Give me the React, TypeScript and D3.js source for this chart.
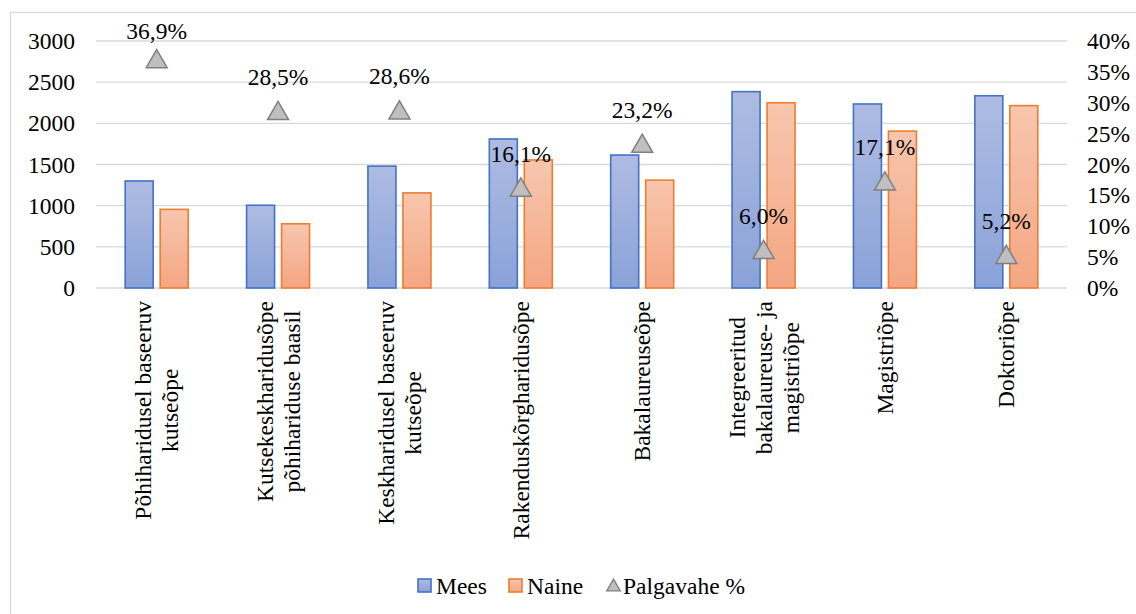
import { useRef, useEffect } from 'react';
import * as d3 from 'd3';

const CATEGORIES: string[][] = [
  ['Põhiharidusel baseeruv', 'kutseõpe'],
  ['Kutsekeskharidusõpe', 'põhihariduse baasil'],
  ['Keskharidusel baseeruv', 'kutseõpe'],
  ['Rakenduskõrgharidusõpe'],
  ['Bakalaureuseõpe'],
  ['Integreeritud', 'bakalaureuse- ja', 'magistriõpe'],
  ['Magistriõpe'],
  ['Doktoriõpe'],
];
const MEES = [1300, 1005, 1480, 1810, 1615, 2385, 2235, 2335];
const NAINE = [955, 780, 1155, 1555, 1310, 2250, 1905, 2215];
const PALGAVAHE = [36.9, 28.5, 28.6, 16.1, 23.2, 6.0, 17.1, 5.2];
const LEFT_TICKS = [0, 500, 1000, 1500, 2000, 2500, 3000];
const RIGHT_TICKS = [0, 5, 10, 15, 20, 25, 30, 35, 40];
const SERIES = ['Mees', 'Naine'];

const FONT = "'Liberation Serif', 'Times New Roman', serif";
const FS = 23.5;

export default function App() {
  const svgRef = useRef<SVGSVGElement>(null);

  useEffect(() => {
    if (!svgRef.current) return;
    const W = 1136, H = 614;
    const margin = { top: 41, right: 1067, bottom: 288, left: 96 };
    const svg = d3.select(svgRef.current);
    svg.selectAll('*').remove();
    svg.attr('width', W).attr('height', H).style('font-family', FONT);

    // gradients
    const defs = svg.append('defs');
    const grads: [string, string, string][] = [
      ['gMees', '#aebce2', '#8aa2d9'],
      ['gNaine', '#f7c6ae', '#f4a683'],
    ];
    grads.forEach(([id, top, bot]) => {
      const g = defs.append('linearGradient').attr('id', id).attr('x1', 0).attr('y1', 0).attr('x2', 0).attr('y2', 1);
      g.append('stop').attr('offset', '0%').attr('stop-color', top);
      g.append('stop').attr('offset', '100%').attr('stop-color', bot);
    });
    const fills: Record<string, string> = { Mees: 'url(#gMees)', Naine: 'url(#gNaine)' };
    const strokes: Record<string, string> = { Mees: '#4472c4', Naine: '#ed7d31' };

    // chart border
    svg.append('rect')
      .attr('x', 10.5).attr('y', 12.5).attr('width', W + 10).attr('height', H + 10)
      .attr('fill', 'none').attr('stroke', '#d9d9d9').attr('stroke-width', 1.3);

    const x = d3.scaleBand<number>()
      .domain(d3.range(CATEGORIES.length))
      .range([margin.left, margin.right]);
    const xs = d3.scaleBand<string>().domain(SERIES).range([-31.5, 31.5]).paddingInner(0.2);
    const y = d3.scaleLinear().domain([0, 3000]).range([margin.bottom, margin.top]);
    const y2 = d3.scaleLinear().domain([0, 40]).range([margin.bottom, margin.top]);
    const cx = (i: number) => (x(i) ?? 0) + x.bandwidth() / 2;

    // grid
    svg.append('g')
      .selectAll('line')
      .data(LEFT_TICKS)
      .join('line')
      .attr('x1', margin.left).attr('x2', margin.right)
      .attr('y1', d => y(d)).attr('y2', d => y(d))
      .attr('stroke', '#d9d9d9').attr('stroke-width', 1.4);

    const txt = (sel: d3.Selection<any, any, any, any>) =>
      sel.style('font-family', FONT).attr('font-size', FS).attr('fill', '#000');

    // left axis labels
    svg.append('g')
      .selectAll('text')
      .data(LEFT_TICKS)
      .join('text')
      .attr('x', 75).attr('y', d => y(d))
      .attr('text-anchor', 'end').attr('dominant-baseline', 'central')
      .call(txt)
      .text(d => `${d}`);

    // right axis labels
    svg.append('g')
      .selectAll('text')
      .data(RIGHT_TICKS)
      .join('text')
      .attr('x', 1087).attr('y', d => y2(d))
      .attr('dominant-baseline', 'central')
      .call(txt)
      .text(d => `${d}%`);

    // bars
    const seriesData: Record<string, number[]> = { Mees: MEES, Naine: NAINE };
    SERIES.forEach(s => {
      svg.append('g')
        .selectAll('rect')
        .data(seriesData[s])
        .join('rect')
        .attr('x', (_, i) => cx(i) + (xs(s) ?? 0))
        .attr('y', d => y(d))
        .attr('width', xs.bandwidth())
        .attr('height', d => y(0) - y(d))
        .attr('fill', fills[s])
        .attr('stroke', strokes[s])
        .attr('stroke-width', 1.6);
    });

    // triangles
    const tri = d3.symbol().type(d3.symbolTriangle).size(190);
    svg.append('g')
      .selectAll('path')
      .data(PALGAVAHE)
      .join('path')
      .attr('transform', (d, i) => `translate(${cx(i)},${y2(d) + 1.5})`)
      .attr('d', tri())
      .attr('fill', '#bfbfbf').attr('stroke', '#7f7f7f').attr('stroke-width', 1.5);

    // data labels
    svg.append('g')
      .selectAll('text')
      .data(PALGAVAHE)
      .join('text')
      .attr('x', (_, i) => cx(i))
      .attr('y', d => Math.max(y2(d) - 35, 31))
      .attr('text-anchor', 'middle').attr('dominant-baseline', 'central')
      .call(txt)
      .text(d => `${d.toFixed(1).replace('.', ',')}%`);

    // category labels (rotated)
    const lh = 27;
    CATEGORIES.forEach((lines, i) => {
      const g = svg.append('g');
      const texts = g.selectAll('text')
        .data(lines)
        .join('text')
        .attr('text-anchor', 'middle').attr('dominant-baseline', 'central')
        .call(txt)
        .text(d => d);
      let maxLen = 0;
      texts.each(function () {
        maxLen = Math.max(maxLen, (this as SVGTextElement).getComputedTextLength());
      });
      const cy = 301 + maxLen / 2;
      texts.attr('transform', (_, j) =>
        `translate(${cx(i) + (j - (lines.length - 1) / 2) * lh},${cy}) rotate(-90)`);
    });

    // legend
    const legend = svg.append('g');
    const items = [
      { key: 'Mees', x: 418 },
      { key: 'Naine', x: 509 },
    ];
    items.forEach(it => {
      legend.append('rect')
        .attr('x', it.x).attr('y', 579).attr('width', 13).attr('height', 13)
        .attr('fill', fills[it.key]).attr('stroke', strokes[it.key]).attr('stroke-width', 1.6);
      legend.append('text').attr('x', it.x + 18).attr('y', 585.5)
        .attr('dominant-baseline', 'central').call(txt).text(it.key);
    });
    legend.append('path')
      .attr('transform', 'translate(613.5,587)')
      .attr('d', d3.symbol().type(d3.symbolTriangle).size(80)())
      .attr('fill', '#bfbfbf').attr('stroke', '#7f7f7f').attr('stroke-width', 1.3);
    legend.append('text').attr('x', 623).attr('y', 585.5)
      .attr('dominant-baseline', 'central').call(txt).text('Palgavahe %');
  }, []);

  return (
    <div style={{ position: 'absolute', left: 0, top: 0, background: '#fff' }}>
      <svg ref={svgRef} style={{ display: 'block' }} />
    </div>
  );
}
